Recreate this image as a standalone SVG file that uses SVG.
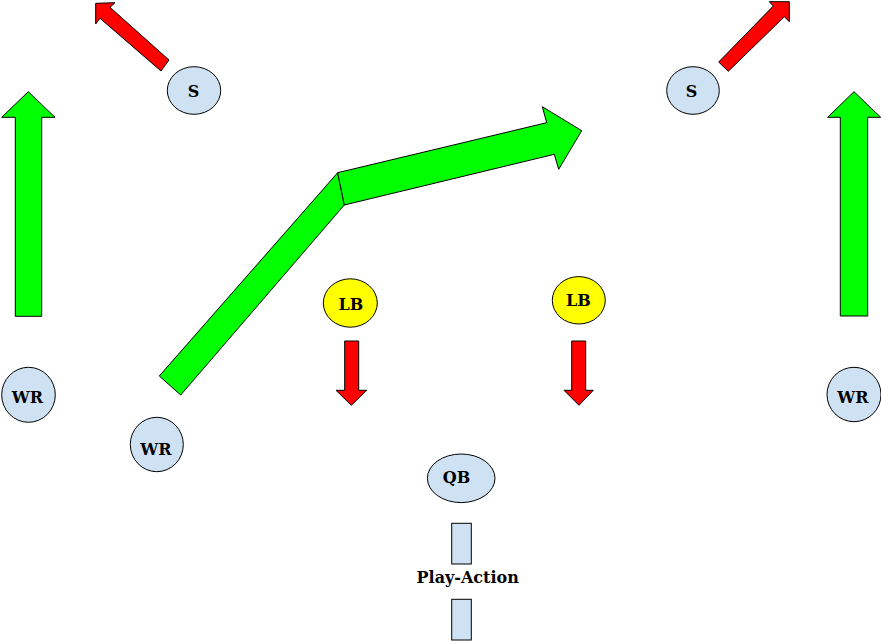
<svg xmlns="http://www.w3.org/2000/svg" width="881" height="641" viewBox="0 0 881 641">
<style>
.p{fill:#cfe2f3;stroke:#000;stroke-width:1}
.lb{fill:#ffff00;stroke:#000;stroke-width:1}
.g{fill:#00ff00;stroke:#000;stroke-width:1;stroke-linejoin:miter}
.r{fill:#ff0000;stroke:#000;stroke-width:1;stroke-linejoin:miter}
.t{font-family:"DejaVu Serif","Liberation Serif",serif;font-weight:bold;font-size:16px;text-anchor:middle;fill:#000}
.pa{font-size:16px}
</style>
<rect width="881" height="641" fill="#fff"/>
<g id="connectors">
<polygon class="r" points="161,71 100,18.3 95.7,24 95.7,3.3 115,2.7 110,7.3 169,60"/>
<polygon class="r" points="718.7,62 773.3,6 769.3,1.7 789.3,1.7 789.3,21.7 784.3,16.7 728.3,71.3"/>
<polygon class="g" points="15.3,316.3 15.3,117.3 1.7,117.3 28.3,91.7 55,117.3 41.7,117.3 41.7,316.3"/>
<polygon class="g" points="840.3,316 840.3,117.3 827.7,117.3 854,91.7 880.7,117.3 867.7,117.3 867.7,316"/>
<polygon class="g" points="159.3,376 180.7,395 344.3,205 337.7,172.7"/>
<polygon class="g" points="337.7,172.7 546.7,122.7 542.3,106.7 581.7,130.7 558.7,169.3 554.3,154.3 344.3,205"/>
<polygon class="r" points="344.7,341 358.7,341 358.7,390.3 366.7,390.3 351.3,405.3 336,390.3 344.7,390.3"/>
<polygon class="r" points="571.7,341 585.7,341 585.7,390.3 593.3,390.3 579,405.3 564,390.3 571.7,390.3"/>
</g>
<g id="s-left"><ellipse class="p" cx="194" cy="90.5" rx="26.7" ry="23.8"/><text class="t" x="193.5" y="97.3">S</text></g>
<g id="s-right"><ellipse class="p" cx="693" cy="90.5" rx="26.3" ry="23.8"/><text class="t" x="691.5" y="97.3">S</text></g>
<g id="wr-left"><ellipse class="p" cx="28.5" cy="394.8" rx="26.8" ry="27.5"/><text class="t" x="27.5" y="402.7">WR</text></g>
<g id="wr-slot"><ellipse class="p" cx="156.8" cy="444.5" rx="26.5" ry="27.2"/><text class="t" x="156" y="455">WR</text></g>
<g id="wr-right"><ellipse class="p" cx="854" cy="394.5" rx="27" ry="27.2"/><text class="t" x="853" y="403.3">WR</text></g>
<g id="lb-left"><ellipse class="lb" cx="350.3" cy="303" rx="27" ry="24.2"/><text class="t" x="351" y="310">LB</text></g>
<g id="lb-right"><ellipse class="lb" cx="578.8" cy="300.3" rx="26.5" ry="23.7"/><text class="t" x="578.5" y="306">LB</text></g>
<g id="qb"><ellipse class="p" cx="461.2" cy="478.3" rx="33.8" ry="24.3"/><text class="t" x="456.5" y="482.7">QB</text></g>
<g id="play-action">
<rect class="p" x="451.7" y="523.3" width="19.6" height="40.7"/>
<rect class="p" x="451.7" y="599.3" width="19.6" height="40.7"/>
<text class="t pa" x="467.7" y="583.3">Play-Action</text>
</g>
</svg>
